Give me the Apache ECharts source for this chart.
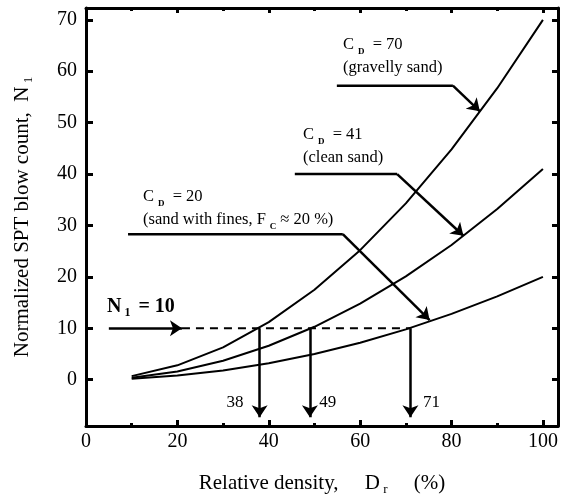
<!DOCTYPE html>
<html><head><meta charset="utf-8">
<script src="https://cdn.jsdelivr.net/npm/echarts@6/dist/echarts.min.js"></script>
<style>html,body{margin:0;padding:0;background:#fff}#c{width:563px;height:501px}</style>
</head><body><div id="c"></div>
<script>
// ---- data ----
var relDensity = [10, 20, 30, 40, 50, 60, 70, 80, 90, 100];
var nGravelly = [0.7, 2.8, 6.3, 11.2, 17.5, 25.2, 34.3, 44.8, 56.7, 70];   // C_D = 70
var nClean    = [0.4, 1.6, 3.7, 6.6, 10.3, 14.8, 20.1, 26.2, 33.2, 41];   // C_D = 41
var nFines    = [0.2, 0.8, 1.8, 3.2, 5.0, 7.2, 9.8, 12.8, 16.2, 20];     // C_D = 20
var xMajorTicks = [0, 20, 40, 60, 80, 100];
var xMinorTicks = [10, 30, 50, 70, 90];
var yTicks = [0, 10, 20, 30, 40, 50, 60, 70];
var targetN = 10;
var drAtTarget = [38, 49, 71];
var arrowBottom = -7.3;
var nArrowStart = 5;
var dashStart = 21;
// leader lines (data coordinates)
var leader70 = [[54.9, 57.2], [80.3, 57.2], [86.2, 52.2]];
var leader41 = [[45.7, 40.0], [68.1, 40.0], [82.6, 28.0]];
var leader20 = [[9.2, 28.3], [56.2, 28.3], [75.2, 11.6]];
var drLabelPos = [[32.6, -4.4], [52.9, -4.4], [75.6, -4.4]];

function zip(a, b) { return a.map(function (v, i) { return [v, b[i]]; }); }

var FONT = 'Liberation Serif';
var chart = echarts.init(document.getElementById('c'));
var black = '#000';

var curveSeries = [nGravelly, nClean, nFines].map(function (arr) {
  return { type: 'line', data: zip(relDensity, arr), symbol: 'none', lineStyle: { color: black, width: 2 }, silent: true, z: 5 };
});
var leaderSeries = [leader70, leader41, leader20].map(function (pts) {
  return { type: 'line', data: pts.slice(0, 2), symbol: 'none', lineStyle: { color: black, width: 2.5 }, silent: true, z: 5 };
});

var arrowLines = [];
arrowLines.push({ coords: [[nArrowStart, targetN], [dashStart, targetN]] });
drAtTarget.forEach(function (d) { arrowLines.push({ coords: [[d, targetN], [d, arrowBottom]] }); });
[leader70, leader41, leader20].forEach(function (pts) { arrowLines.push({ coords: [pts[1], pts[2]] }); });

var option = {
  animation: false,
  backgroundColor: '#fff',
  grid: { left: 86, top: 8, right: 5, bottom: 68, containLabel: false },
  xAxis: [
    { type: 'value', min: 0, max: 103.3, position: 'bottom',
      axisLine: { onZero: false, lineStyle: { color: black, width: 3 } },
      axisTick: { inside: true, length: 6, lineStyle: { color: black, width: 3 }, customValues: xMajorTicks },
      axisLabel: { customValues: xMajorTicks, color: black, fontFamily: FONT, fontSize: 20, margin: 6 },
      splitLine: { show: false },
      name: '{t|Relative density,     D}{s| r}{t|     (%)}', nameLocation: 'middle', nameGap: 45,
      nameTextStyle: { rich: { t: { fontFamily: FONT, fontSize: 21, color: black }, s: { fontFamily: FONT, fontSize: 13, color: black, verticalAlign: 'bottom', padding: [12, 0, 0, 0] } } } },
    { type: 'value', min: 0, max: 103.3, position: 'bottom',
      axisLine: { show: false, onZero: false },
      axisTick: { inside: true, length: 3, lineStyle: { color: black, width: 3 }, customValues: xMinorTicks },
      axisLabel: { show: false }, splitLine: { show: false } },
    { type: 'value', min: 0, max: 103.3, position: 'top',
      axisLine: { onZero: false, lineStyle: { color: black, width: 3 } },
      axisTick: { inside: true, length: 5, lineStyle: { color: black, width: 3 }, customValues: xMajorTicks },
      axisLabel: { show: false }, splitLine: { show: false } },
    { type: 'value', min: 0, max: 103.3, position: 'top',
      axisLine: { show: false, onZero: false },
      axisTick: { inside: true, length: 3, lineStyle: { color: black, width: 3 }, customValues: xMinorTicks },
      axisLabel: { show: false }, splitLine: { show: false } }
  ],
  yAxis: [
    { type: 'value', min: -9, max: 72.3, position: 'left',
      axisLine: { onZero: false, lineStyle: { color: black, width: 3 } },
      axisTick: { inside: true, length: 7, lineStyle: { color: black, width: 3 }, customValues: yTicks },
      axisLabel: { customValues: yTicks, color: black, fontFamily: FONT, fontSize: 20, margin: 9 },
      splitLine: { show: false },
      name: '{t|Normalized SPT blow count,  N}{s| 1}', nameLocation: 'middle', nameGap: 51, nameRotate: 90,
      nameTextStyle: { rich: { t: { fontFamily: FONT, fontSize: 21, color: black }, s: { fontFamily: FONT, fontSize: 13, color: black, verticalAlign: 'bottom', padding: [12, 0, 0, 0] } } } },
    { type: 'value', min: -9, max: 72.3, position: 'right',
      axisLine: { onZero: false, lineStyle: { color: black, width: 3 } },
      axisTick: { inside: true, length: 6, lineStyle: { color: black, width: 3 }, customValues: yTicks },
      axisLabel: { show: false }, splitLine: { show: false } }
  ],
  series: curveSeries.concat(leaderSeries).concat([
    { type: 'line', data: [[dashStart, targetN], [drAtTarget[2], targetN]], symbol: 'none',
      lineStyle: { color: black, width: 2, type: [8, 6] }, silent: true, z: 4 },
    { type: 'lines', coordinateSystem: 'cartesian2d', polyline: false, silent: true, z: 6,
      symbol: ['none', 'arrow'], symbolSize: [9, 12],
      lineStyle: { color: black, width: 2.5, opacity: 1, curveness: 0 },
      itemStyle: { color: black },
      data: arrowLines },
    { type: 'scatter', symbolSize: 0, silent: true, itemStyle: { opacity: 1 },
      data: drLabelPos.map(function (p, i) { return { value: p, name: String(drAtTarget[i]) }; }),
      label: { show: true, position: 'inside', formatter: '{b}', color: black, fontFamily: FONT, fontSize: 17 } }
  ]),
  graphic: [
    { type: 'text', left: 343, top: 36, style: { text: '{a|C}{s|D}{a| = 70}\n{a|(gravelly sand)}', rich: richT(), fill: black } },
    { type: 'text', left: 303, top: 126, style: { text: '{a|C}{s|D}{a| = 41}\n{a|(clean sand)}', rich: richT(), fill: black } },
    { type: 'text', left: 143, top: 188, style: { text: '{a|C}{s|D}{a| = 20}\n{a|(sand with fines, F}{s|C}{a|≈ 20 %)}', rich: richT(), fill: black } },
    { type: 'text', left: 107, top: 294, style: { text: '{a|N}{s|1}{a| = 10}', rich: {
      a: { fontFamily: FONT, fontSize: 20, fontWeight: 'bold', fill: black, lineHeight: 24 },
      s: { fontFamily: FONT, fontSize: 12, fontWeight: 'bold', fill: black, verticalAlign: 'bottom', padding: [13, 3, 0, 3], lineHeight: 24 } } } }
  ]
};
function richT() {
  return {
    a: { fontFamily: FONT, fontSize: 16.5, fill: black, lineHeight: 23 },
    s: { fontFamily: FONT, fontSize: 9, fontWeight: 'bold', fill: black, verticalAlign: 'bottom', padding: [10, 4, 0, 4], lineHeight: 23 }
  };
}
chart.setOption(option);
</script>
</body></html>
